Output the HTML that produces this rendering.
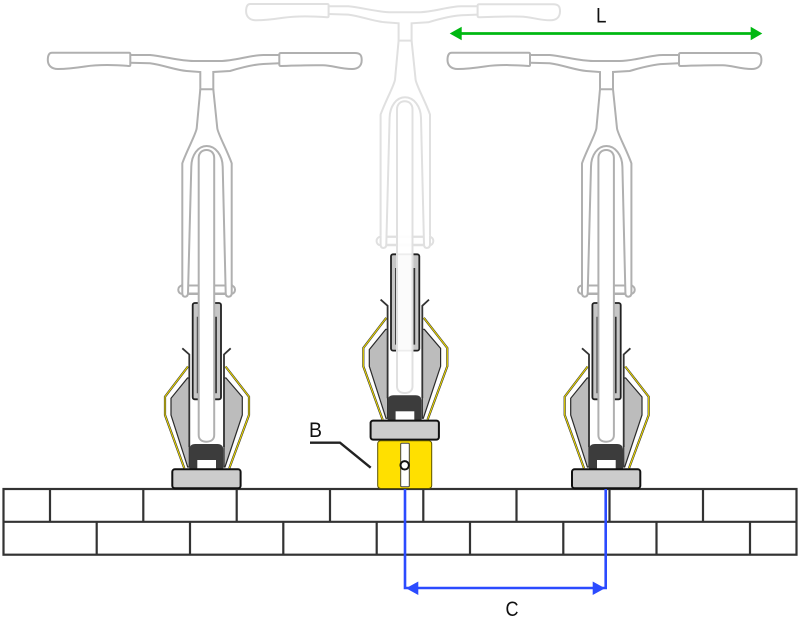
<!DOCTYPE html>
<html>
<head>
<meta charset="utf-8">
<style>
html,body{margin:0;padding:0;background:#fff;}
svg{display:block;}
text{font-family:"Liberation Sans",sans-serif;fill:#111;font-size:21px;}
</style>
</head>
<body>
<svg width="800" height="620" viewBox="0 0 800 620" xmlns="http://www.w3.org/2000/svg">
<defs>
<g id="rack">
  <path d="M188,366.5 L165,396.7 V415 L184.3,468.3" fill="none" stroke="#333" stroke-width="2.2"/>
  <path d="M188,366.5 L165,396.7 V415 L184.3,468.3" fill="none" stroke="#ecd800" stroke-width="1.1"/>
  <path d="M225.5,366.5 L249,396.7 V415 L229.3,468.3" fill="none" stroke="#333" stroke-width="2.2"/>
  <path d="M225.5,366.5 L249,396.7 V415 L229.3,468.3" fill="none" stroke="#ecd800" stroke-width="1.1"/>
  <path d="M187.5,378 L171,398.3 V415 L187.7,467 H189.3 V378Z" fill="#bcbcbc" stroke="#2a2a2a" stroke-width="1.2"/>
  <path d="M226,378 L242.3,397 V415 L225,467 H224 V378Z" fill="#bcbcbc" stroke="#2a2a2a" stroke-width="1.2"/>
  <path d="M182.3,348.3 L189.3,354.5 V447" fill="none" stroke="#333" stroke-width="1.8"/>
  <path d="M230.7,348.3 L224,354.5 V447" fill="none" stroke="#333" stroke-width="1.8"/>
  <rect x="192.7" y="303" width="28.3" height="96.3" rx="2" fill="#c6c6c6" stroke="#222" stroke-width="1.8"/>
  <path d="M197.7,316.7 V393.3 M216,316.7 V393.3" stroke="#333" stroke-width="1.8" fill="none"/>
  <path d="M189.3,469 V450 Q189.3,444 195.3,444 H217.3 Q223.3,444 223.3,450 V469Z" fill="#3c3c3c"/>
  <rect x="197.3" y="460" width="18.7" height="9" fill="#fff"/>
  <rect x="172.3" y="469.3" width="68.3" height="19" rx="2.5" fill="#cccccc" stroke="#111" stroke-width="2"/>
</g>
<g id="bars" fill="none">
  <path d="M130,55 H150 C165,56.5 180,61 193.3,61 H220 C235,61 250,55 263.3,55 H279.3" />
  <path d="M130,62.7 L150,63.3 C165,65.5 175,70 186.7,71 L200.3,72 V89.3 H213.3 V72 L230,71 C240,68 252,64.5 263.3,64 L279.3,63.3"/>
  <path d="M52,52.7 H129 Q130.3,52.7 130.3,54 V65 Q130.3,66 129,66 C110,64.5 95,65 85,66.5 C75,68 65,69 58,69 C51,69 47.8,65 47.8,60 C47.8,55 49,52.7 52,52.7Z" fill="#fff"/>
  <path d="M281,53 H355 C360,53 361.7,55 361.7,60 C361.7,66 358,69 352,69 C340,69 333,65.5 323,65.3 C310,65 295,65.5 281,66 Q279.3,66 279.3,64.5 V54.5 Q279.3,53 281,53Z" fill="#fff"/>
  <path d="M200.3,89.3 L196.7,128.3 C196,134 187,150 182.3,163.3 V290"/>
  <path d="M213.3,89.3 L217.3,128.3 C218,134 227,150 231.7,163.3 V290"/>
  <rect x="178.3" y="285.5" width="56.7" height="8.5" rx="4" fill="#fff"/>
  <path d="M182.3,284 V293 Q182.3,296.7 185,296.7 Q188,296.7 188,293 L191.3,166.7 C191.5,155 198,146 206.7,146 C215.5,146 222.5,155 222.7,166.7 L225.7,293 Q225.7,296.7 228.5,296.7 Q231.7,296.7 231.7,293 V284" fill="#fff"/>
  <path d="M188,285.5 H226 M188,293.5 H226"/>
  <path d="M198.7,435 V158 C198.7,153 202,150 206.5,150 C211,150 214.2,153 214.2,158 V435 C214.2,439.5 211,441.7 206.5,441.7 C202,441.7 198.7,439.5 198.7,435Z" style="fill:#fff;fill-opacity:var(--t,1)"/>
</g>
</defs>

<!-- wall -->
<g fill="none" stroke="#333" stroke-width="2.2">
  <rect x="3.5" y="489" width="793" height="65.7"/>
  <path d="M3.5,521.8 H796.5"/>
  <path d="M50,489 V521.8 M143.3,489 V521.8 M236.7,489 V521.8 M330,489 V521.8 M423.3,489 V521.8 M516.5,489 V521.8 M609.5,489 V521.8 M703,489 V521.8"/>
  <path d="M96.7,521.8 V554.7 M190,521.8 V554.7 M283.3,521.8 V554.7 M376.7,521.8 V554.7 M470,521.8 V554.7 M563.3,521.8 V554.7 M656.5,521.8 V554.7 M750,521.8 V554.7"/>
</g>

<!-- racks -->
<use href="#rack"/>
<use href="#rack" transform="translate(198.3,-48.7)"/>
<use href="#rack" transform="translate(399.7,0)"/>

<!-- yellow block -->
<rect x="377.7" y="440.7" width="54" height="47.8" rx="3" fill="#ffe000" stroke="#5a5200" stroke-width="1"/>
<rect x="400.7" y="443.3" width="8.6" height="43.4" rx="1" fill="#fff" stroke="#444" stroke-width="1"/>
<circle cx="404.7" cy="465.3" r="4.2" fill="#fff" stroke="#111" stroke-width="2"/>

<!-- bikes -->
<use href="#bars" stroke="#e0e0e0" stroke-width="2" transform="translate(198.3,-48.7)" style="--t:.92"/>
<use href="#bars" stroke="#b0b0b0" stroke-width="2"/>
<use href="#bars" stroke="#b0b0b0" stroke-width="2" transform="translate(399.7,0)"/>

<!-- leader -->
<path d="M310,442.7 H340 L370.7,467.7" fill="none" stroke="#222" stroke-width="2.4"/>

<!-- blue dimension -->
<path d="M405,489 V588 H605.7 V489" fill="none" stroke="#2b4bff" stroke-width="2.6"/>
<path d="M406,588.3 L418.3,581.5 V595Z M605,588.3 L592.7,581.5 V595Z" fill="#2b4bff"/>

<!-- green dimension -->
<path d="M458,33.5 H752" fill="none" stroke="#00b812" stroke-width="2.8"/>
<path d="M449.7,33.5 L461.7,26.8 V40.2Z M762.3,33.5 L750.7,26.8 V40.2Z" fill="#00b812"/>

<!-- labels -->
<text x="596" y="22.3" textLength="10.5" lengthAdjust="spacingAndGlyphs">L</text>
<text x="309" y="437" textLength="13" lengthAdjust="spacingAndGlyphs">B</text>
<text x="505.5" y="616" textLength="13" lengthAdjust="spacingAndGlyphs">C</text>
</svg>
</body>
</html>
